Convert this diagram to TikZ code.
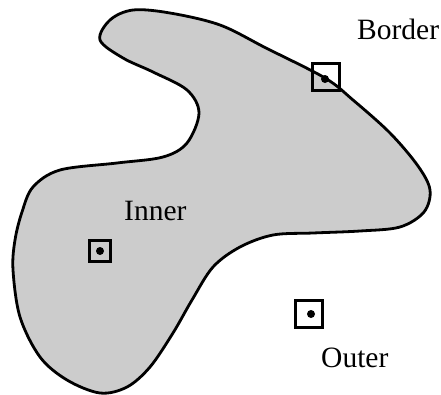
\documentclass[tikz,border=0pt]{standalone}
\usepackage{fontspec}
\setmainfont{Liberation Serif}
\begin{document}
\begin{tikzpicture}[x=1pt,y=-1pt,
  blob/.style={draw=black,fill=black!20,line width=2.8pt},
  probe/.style={draw=black,line width=3pt,minimum size=#1,inner sep=0pt,outer sep=0pt},
  pdot/.style={circle,fill=black,minimum size=8pt,inner sep=0pt},
  lbl/.style={anchor=base west,inner sep=0pt,font=\fontsize{29.5}{32}\selectfont}]
\useasboundingbox (0,0) rectangle (441,394);
\draw[blob] plot[smooth cycle,tension=0.55] coordinates {
 (100,40) (110,20) (133,10) (170,13) (220,25) (266,48) (325,78) (353,100)
 (390,133) (418,166) (430,190) (424,212) (400,227) (360,231) (313,233)
 (273,235) (240,247) (213,267) (192,300) (173,333) (150,367) (127,387)
 (100,393) (67,380) (40,357) (20,317) (13,270) (15,240) (22,212) (33,187)
 (60,170) (117,163) (163,157) (187,143) (199,113) (187,90) (153,72) (123,58)};
\node[probe=27pt] (bsq) at (326,77) {};
\node[pdot] (bdot) at (325,79) {};
\node[probe=21pt] (isq) at (100,251) {};
\node[pdot] (idot) at (100,251) {};
\node[probe=27pt] (osq) at (309,314) {};
\node[pdot] (odot) at (311,314) {};
\node[lbl] (blbl) at (357,39) {Border};
\node[lbl] (ilbl) at (124,220) {Inner};
\node[lbl] (olbl) at (321,367) {Outer};
\end{tikzpicture}
\end{document}
